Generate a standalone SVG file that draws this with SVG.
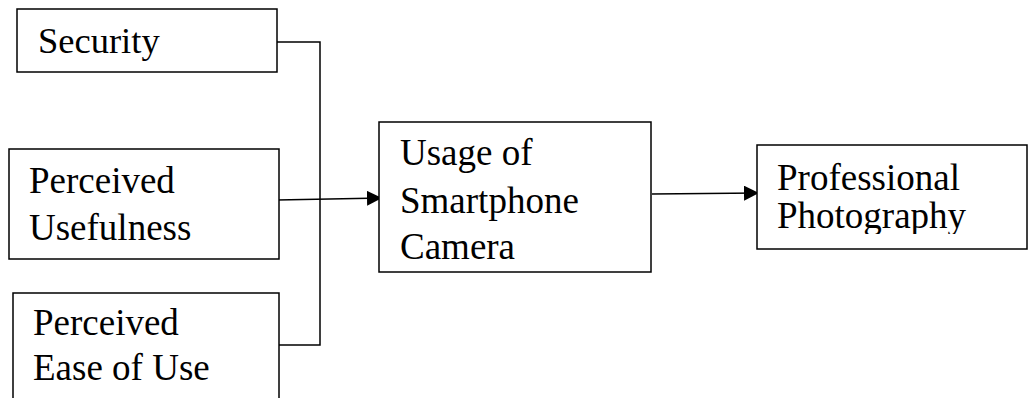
<svg xmlns="http://www.w3.org/2000/svg" width="1029" height="398" viewBox="0 0 1029 398">
<style>
.box{fill:#fff;stroke:#000;stroke-width:1.5}
.t{font-family:"Liberation Serif","Times New Roman",serif;font-size:37px;fill:#000}
.c{fill:none;stroke:#000;stroke-width:1.5}
</style>
<defs>
<marker id="ah" markerWidth="15" markerHeight="15" refX="15" refY="7.5" orient="auto" markerUnits="userSpaceOnUse">
<path d="M0,0 L15,7.5 L0,15 Z" fill="#000"/>
</marker>
<clipPath id="clipProf"><rect x="757" y="145" width="272" height="89"/></clipPath>
</defs>
<g id="connectors">
<polyline class="c" points="277,42 320,42 320,345 279,345"/>
<line class="c" x1="277" y1="200" x2="382" y2="198" marker-end="url(#ah)"/>
<line class="c" x1="652" y1="194" x2="759" y2="193" marker-end="url(#ah)"/>
</g>
<g id="security">
<rect class="box" x="17" y="9" width="260" height="63"/>
<text class="t" x="38" y="53" style="font-size:36.5px">Security</text>
</g>
<g id="usefulness">
<rect class="box" x="9" y="149" width="270" height="110"/>
<text class="t" x="29" y="193">Perceived</text>
<text class="t" x="29" y="240">Usefulness</text>
</g>
<g id="ease">
<rect class="box" x="13" y="293" width="266" height="120"/>
<text class="t" x="33" y="335">Perceived</text>
<text class="t" x="33" y="380">Ease of Use</text>
</g>
<g id="usage">
<rect class="box" x="379" y="122" width="272" height="150"/>
<text class="t" x="400" y="165">Usage of</text>
<text class="t" x="400" y="213">Smartphone</text>
<text class="t" x="400" y="259">Camera</text>
</g>
<g id="professional">
<rect class="box" x="757" y="145" width="270" height="104"/>
<g clip-path="url(#clipProf)">
<text class="t" x="777" y="190">Professional</text>
<text class="t" x="777" y="228">Photography</text>
</g>
</g>
</svg>
